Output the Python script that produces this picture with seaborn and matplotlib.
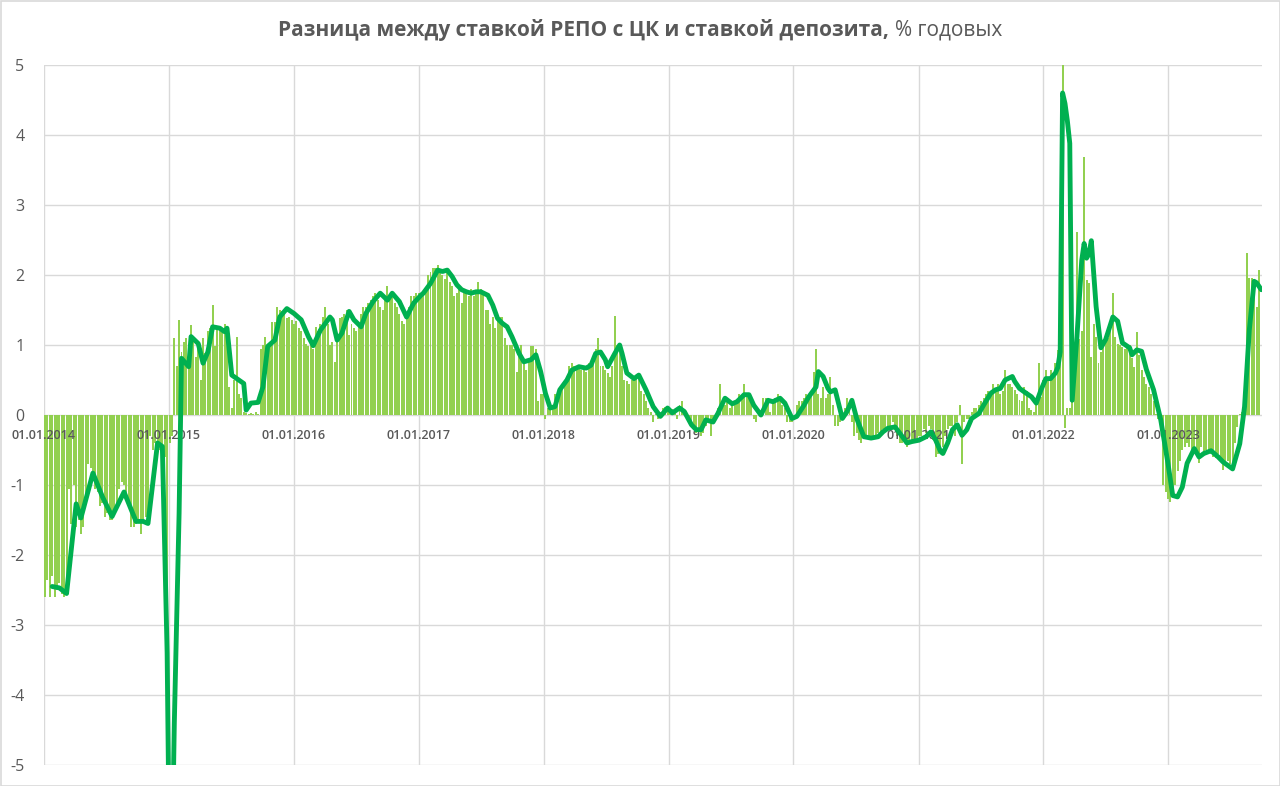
import numpy as np
import pandas as pd
import matplotlib
matplotlib.use("Agg")
import matplotlib.pyplot as plt
import seaborn as sns
from matplotlib.patches import Rectangle

# ---------------- data (weekly spread, % p.a.) ----------------
title_bold = "Разница между ставкой РЕПО с ЦК и ставкой депозита,"
title_normal = "% годовых"

start_date = "2014-01-04"          # first weekly observation
years = list(range(2014, 2024))
tick_labels = [f"01.01.{y}" for y in years]
y_ticks = [-5, -4, -3, -2, -1, 0, 1, 2, 3, 4, 5]

# weekly bars, 52 values per row-block (weeks 0-51, 52-103, ...)
bars_2014 = [-2.6, -2.35, -2.6, -2.3, -2.6, -2.5, -2.4, -2.55, -2.6, -2.3,
             -1.05, -1.55, -1.0, -1.6, -1.5, -1.7, -1.6, -1.2, -0.7, -0.75,
             -0.85, -1.05, -1.1, -1.3, -1.25, -1.45, -1.4, -1.5, -1.5, -1.35,
             -1.25, -1.05, -0.95, -1.0, -1.2, -1.3, -1.6, -1.6, -1.55, -1.5,
             -1.7, -1.5, -1.45, -1.45, -0.3, -0.5, -0.4, -0.4, -0.5, -0.5,
             -0.6, -9.0]
bars_2015 = [-0.4, -0.3, 1.1, 0.7, 1.36, 0.9, 1.05, 1.1, 0.83, 1.29,
             1.1, 0.83, 1.0, 0.5, 1.1, 0.88, 1.2, 1.24, 1.57, 0.98,
             1.25, 1.21, 1.24, 1.3, 1.12, 0.4, 0.1, 0.5, 1.12, 0.3,
             0.24, 0.05, 0.03, 0.02, 0.03, 0.02, 0.05, 0.02, 0.95, 1.0,
             1.12, 0.98, 1.05, 1.33, 1.33, 1.55, 1.5, 1.48, 1.45, 1.38,
             1.4, 1.36]
bars_2016 = [1.3, 1.35, 1.24, 1.2, 1.1, 1.02, 0.98, 1.05, 0.95, 1.26,
             1.2, 1.3, 1.4, 1.55, 1.3, 1.0, 1.05, 0.76, 1.1, 1.38,
             1.4, 1.45, 1.5, 1.14, 1.3, 1.25, 1.2, 1.3, 1.45, 1.55,
             1.55, 1.6, 1.65, 1.7, 1.75, 1.65, 1.55, 1.5, 1.7, 1.85,
             1.7, 1.75, 1.6, 1.55, 1.45, 1.35, 1.3, 1.4, 1.55, 1.7,
             1.7, 1.75]
bars_2017 = [1.75, 1.7, 1.75, 1.8, 2.0, 2.05, 2.1, 2.1, 2.15, 2.05,
             2.0, 1.95, 2.1, 1.9, 1.85, 1.7, 1.75, 1.8, 1.6, 1.8,
             1.75, 1.7, 1.8, 1.7, 1.75, 1.9, 1.8, 1.75, 1.5, 1.5,
             1.3, 1.4, 1.25, 1.35, 1.4, 1.4, 1.1, 1.0, 1.0, 1.0,
             0.95, 0.62, 0.9, 1.0, 0.75, 0.65, 0.8, 0.98, 0.98, 0.95,
             0.2, 0.3]
bars_2018 = [0.3, -0.05, 0.1, 0.1, 0.15, 0.3, 0.3, 0.35, 0.45, 0.5,
             0.55, 0.7, 0.75, 0.7, 0.7, 0.72, 0.65, 0.7, 0.62, 0.75,
             0.7, 0.8, 0.95, 1.1, 0.7, 0.7, 0.65, 0.6, 0.55, 0.7,
             1.42, 1.0, 0.9, 0.7, 0.5, 0.48, 0.45, 0.5, 0.55, 0.55,
             0.55, 0.35, 0.3, 0.2, 0.1, 0.05, -0.1, 0.02, -0.05, 0.05,
             0.1, 0.12]
bars_2019 = [0.12, 0.1, 0.08, 0.05, -0.05, 0.15, 0.2, 0.05, 0.0, -0.1,
             -0.15, -0.2, -0.25, -0.2, -0.3, -0.25, -0.15, -0.05, -0.3, -0.1,
             -0.05, 0.1, 0.45, 0.2, 0.15, 0.2, 0.1, 0.2, 0.15, 0.2,
             0.3, 0.25, 0.45, 0.3, 0.25, 0.25, -0.05, -0.1, 0.0, 0.05,
             0.25, 0.25, 0.2, 0.05, 0.2, 0.25, 0.3, 0.25, 0.15, 0.1,
             -0.1, -0.1]
bars_2020 = [-0.1, 0.0, 0.15, 0.2, 0.2, 0.25, 0.3, 0.3, 0.35, 0.62,
             0.95, 0.3, 0.25, 0.4, 0.25, 0.3, 0.55, 0.15, -0.15, -0.15,
             -0.1, -0.05, 0.1, 0.25, 0.1, -0.1, -0.3, -0.25, -0.35, -0.4,
             -0.3, -0.3, -0.35, -0.35, -0.3, -0.3, -0.25, -0.25, -0.2, -0.2,
             -0.2, -0.15, -0.1, -0.15, -0.3, -0.4, -0.4, -0.4, -0.45, -0.35,
             -0.35, -0.35]
bars_2021 = [-0.35, -0.3, -0.3, -0.2, -0.25, -0.15, -0.2, -0.35, -0.6, -0.55,
             -0.5, -0.45, -0.3, -0.2, -0.15, -0.15, -0.3, -0.1, 0.15, -0.7,
             -0.1, -0.05, -0.05, 0.05, 0.1, 0.1, 0.15, 0.2, 0.25, 0.3,
             0.35, 0.35, 0.45, 0.35, 0.45, 0.3, 0.35, 0.65, 0.45, 0.45,
             0.4, 0.36, 0.3, 0.21, 0.2, 0.4, 0.35, 0.1, 0.07, 0.05,
             0.17, 0.74]
bars_2022 = [0.26, 0.5, 0.64, 0.55, 0.64, 0.6, 0.74, 0.93, 0.75, 16.0,
             -0.19, 0.1, 0.1, 0.2, 0.5, 2.61, 1.09, 1.2, 3.69, 1.93,
             1.88, 0.83, 1.3, 1.12, 0.74, 0.9, 1.02, 1.16, 1.1, 1.3,
             1.75, 1.12, 1.02, 1.0, 0.97, 0.95, 0.97, 1.0, 0.81, 0.69,
             1.19, 0.86, 0.64, 0.55, 0.45, 0.4, 0.3, 0.2, 0.02, -0.05,
             -0.17, -1.0]
bars_2023 = [-1.1, -1.2, -1.24, -1.15, -1.0, -0.8, -0.65, -0.5, -0.45, -0.4,
             -0.45, -0.6, -0.5, -0.55, -0.69, -0.45, -0.55, -0.5, -0.53, -0.55,
             -0.6, -0.62, -0.55, -0.65, -0.79, -0.72, -0.65, -0.7, -0.69, -0.4,
             -0.17, 0.02, 0.05, 0.07, 2.32, 1.96, 1.96, 1.9, 1.55, 2.07]

# smoothed line: week number (from start_date) and value
line_weeks = [3, 6, 9, 13, 15, 20, 24, 28, 33, 38, 41, 43, 47, 49, 50, 51, 52, 53, 54, 55, 56,
              57, 60, 61, 64, 66, 68, 70, 73, 75, 76, 78, 83, 84, 86, 89, 91, 93, 96, 98, 101,
              104, 107, 110, 112, 115, 119, 120, 122, 124, 127, 129, 132, 134, 137, 140, 143,
              145, 148, 151, 154, 157, 158, 161, 164, 166, 168, 170, 172, 174, 176, 178, 180,
              182, 185, 187, 189, 191, 193, 195, 198, 200, 203, 205, 207, 209, 211, 213, 215,
              218, 220, 223, 226, 228, 230, 232, 234, 235, 238, 240, 241, 243, 246, 248, 251,
              254, 257, 260, 262, 265, 267, 270, 272, 274, 276, 279, 281, 284, 287, 289, 292,
              294, 296, 299, 302, 304, 307, 309, 312, 314, 317, 319, 322, 323, 325, 327, 328,
              330, 333, 335, 337, 339, 342, 345, 348, 350, 352, 355, 357, 360, 362, 365, 368,
              370, 372, 374, 375, 377, 379, 381, 383, 385, 387, 390, 392, 395, 397, 399, 401,
              404, 405, 407, 409, 412, 414, 416, 418, 420, 422, 423, 424, 425, 426, 427, 428,
              429, 431, 433, 434, 435, 436, 437, 439, 441, 443, 446, 448, 450, 453, 454, 456,
              458, 460, 463, 466, 469, 471, 473, 475, 477, 480, 482, 484, 487, 490, 492, 496,
              499, 501, 503, 505, 506, 508]
line_values = [-2.45, -2.47, -2.55, -1.27, -1.47, -0.83, -1.17, -1.45, -1.1, -1.52, -1.52, -1.55,
               -0.4, -0.45, -1.9, -3.4, -6.5, -6.5, -4.4, -2.9, -1.4,
               0.81, 0.69, 1.12, 1.02, 0.74, 0.9, 1.26, 1.24, 1.19, 1.24, 0.57, 0.45, 0.07, 0.17,
               0.18, 0.4, 0.98, 1.07, 1.4, 1.52,
               1.45, 1.36, 1.12, 0.99, 1.21, 1.4, 1.36, 1.07, 1.17, 1.48, 1.36, 1.26, 1.45, 1.62,
               1.74, 1.64, 1.74, 1.62, 1.4, 1.6, 1.71, 1.74, 1.88, 2.07, 2.05, 2.07, 1.98, 1.86,
               1.79, 1.76, 1.74, 1.76, 1.76, 1.71, 1.57, 1.38, 1.31, 1.26, 1.12, 0.88, 0.76,
               0.79, 0.86, 0.62, 0.31, 0.1, 0.12, 0.36, 0.5, 0.64, 0.69, 0.67, 0.71, 0.88, 0.9,
               0.79, 0.69, 0.88, 1.0, 0.88, 0.6, 0.52, 0.57, 0.36, 0.12, -0.02, 0.1, 0.03, 0.1,
               0.05, -0.14, -0.21, -0.21, -0.07, -0.1, 0.02, 0.24, 0.16, 0.19, 0.29, 0.29, 0.14,
               0.0, 0.21, 0.19, 0.24, 0.17, -0.05, -0.02, 0.14, 0.26, 0.4, 0.62, 0.55, 0.38,
               0.33, 0.36, -0.05, 0.05, 0.21, -0.05, -0.31, -0.33, -0.31, -0.24, -0.19, -0.17,
               -0.26, -0.4, -0.38, -0.36, -0.31, -0.24, -0.36, -0.52, -0.55, -0.4, -0.21, -0.14,
               -0.29, -0.21, -0.05, 0.02, 0.14, 0.31, 0.36, 0.38, 0.5, 0.55, 0.48, 0.38, 0.33,
               0.26, 0.17, 0.36, 0.52, 0.52, 0.6, 0.68, 0.9, 4.6, 4.45, 4.2, 3.88, 0.21, 1.12,
               2.21, 2.45, 2.24, 2.3, 2.49, 1.55, 0.96, 1.08, 1.4, 1.34, 1.03, 0.96, 0.86, 0.93,
               0.91, 0.65, 0.36, -0.07, -0.69, -1.15, -1.17, -1.03, -0.69, -0.48, -0.6, -0.55,
               -0.51, -0.6, -0.67, -0.77, -0.41, 0.12, 1.22, 1.91, 1.89, 1.79]

# ---------------- build frames ----------------
bar_values = (bars_2014 + bars_2015 + bars_2016 + bars_2017 + bars_2018 +
              bars_2019 + bars_2020 + bars_2021 + bars_2022 + bars_2023)
t0 = pd.Timestamp(start_date)
bars_df = pd.DataFrame({
    "date": t0 + pd.to_timedelta(np.arange(len(bar_values)) * 7, unit="D"),
    "value": bar_values,
})
line_df = pd.DataFrame({
    "date": t0 + pd.to_timedelta(np.array(line_weeks) * 7, unit="D"),
    "value": line_values,
})

# ---------------- style ----------------
sns.set_theme(style="white")
plt.rcParams["font.family"] = ["Open Sans", "DejaVu Sans"]
text_color = "#595959"
grid_color = "#D9D9D9"
bar_color = "#92D050"
line_color = "#00B050"

W, H = 1280, 786
fig = plt.figure(figsize=(W / 100, H / 100), dpi=100)
fig.patch.set_facecolor("white")
ax = fig.add_axes([44 / W, 21 / H, 1218 / W, 700 / H])
ax.set_facecolor("white")

# grid (behind everything)
for y in years:
    ax.axvline(pd.Timestamp(f"{y}-01-01"), color=grid_color, lw=1.0, zorder=0)
for yv in y_ticks:
    ax.axhline(yv, color=grid_color, lw=1.0, zorder=0)

ax.bar(bars_df["date"], bars_df["value"], width=5.8, color=bar_color,
       linewidth=0, zorder=1)
sns.lineplot(data=line_df, x="date", y="value", ax=ax, color=line_color,
             linewidth=3.5, zorder=3, solid_joinstyle="round",
             solid_capstyle="round", sort=False)

ax.set_ylim(-5, 5)
ax.set_xlim(pd.Timestamp("2014-01-01"), pd.Timestamp("2023-10-02"))
ax.set_xlabel("")
ax.set_ylabel("")
for s in ax.spines.values():
    s.set_visible(False)
ax.spines["bottom"].set_position(("data", 0))

ax.set_xticks([pd.Timestamp(f"{y}-01-01") for y in years])
ax.set_xticklabels(tick_labels)
ax.set_yticks(y_ticks)
ax.set_yticklabels([str(v) for v in y_ticks])
ax.tick_params(axis="x", length=0, pad=10, labelsize=9, labelcolor=text_color)
for lab in ax.get_xticklabels():
    lab.set_fontweight("semibold")
ax.tick_params(axis="y", length=0, pad=14, labelsize=11.5, labelcolor=text_color)
ax.xaxis.set_zorder(2)
ax.grid(False)

# title: bold part + normal part, centred together
ty = 1 - 30 / H
renderer = fig.canvas.get_renderer()
t1 = fig.text(0, ty, title_bold, fontsize=15, fontweight="bold",
              color=text_color, va="center", ha="left")
t2 = fig.text(0, ty, title_normal, fontsize=15, color=text_color,
              va="center", ha="left")
w1 = t1.get_window_extent(renderer).width
w2 = t2.get_window_extent(renderer).width
gap = 6
x0 = (W - (w1 + gap + w2)) / 2
t1.set_x(x0 / W)
t2.set_x((x0 + w1 + gap) / W)

# light chart-area border
fig.patches.append(Rectangle((0.5 / W, 0.5 / H), 1 - 1 / W, 1 - 1 / H,
                             transform=fig.transFigure, fill=False,
                             edgecolor=grid_color, lw=1.2))

fig.savefig("out.png", dpi=100)
